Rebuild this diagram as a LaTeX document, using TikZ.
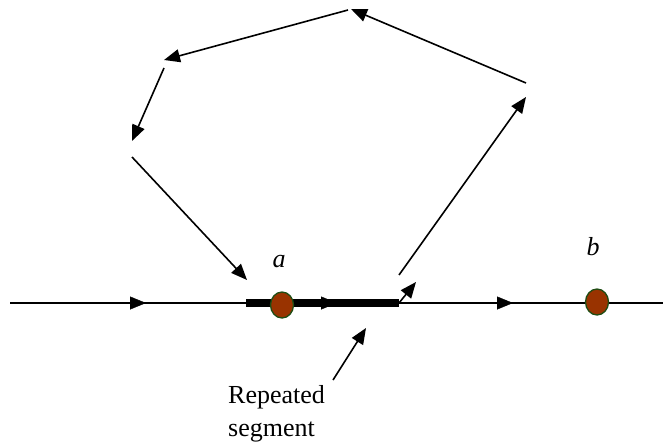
\documentclass[tikz,border=0pt]{standalone}
\usepackage{fontspec}
\setmainfont{Liberation Serif}
\usetikzlibrary{arrows.meta,decorations.markings,shapes.geometric}
\definecolor{dotfill}{HTML}{993300}
\definecolor{dotline}{HTML}{1E4D14}
\begin{document}
\begin{tikzpicture}[x=1pt,y=-1pt,
  conn/.style={line width=1.6pt,-{Triangle[length=16pt,width=13pt]}},
  mainline/.style={line width=1.4pt},
  thickline/.style={line width=8pt},
  midtip/.style={postaction={decorate},decoration={markings,mark=at position #1 with {\arrow{Triangle[length=16pt,width=13pt]}}}},
  dot/.style={ellipse,draw=dotline,fill=dotfill,line width=1.3pt,minimum width=23pt,minimum height=26pt,inner sep=0pt},
  lbl/.style={font=\fontsize{26}{30}\selectfont\itshape,inner sep=0pt},
  txt/.style={font=\fontsize{26}{33}\selectfont,inner sep=0pt,align=left,anchor=north west}
]
\useasboundingbox (0,0) rectangle (663,447);
% main line coordinates
\coordinate (L0) at (10,303);
\coordinate (L1) at (246,303);
\coordinate (L2) at (399,303);
\coordinate (L3) at (663,303);
% polygon coordinates
\coordinate (p1s) at (132,157);
\coordinate (p1e) at (247,280);
\coordinate (p2s) at (399,275);
\coordinate (p2e) at (526,97);
\coordinate (p3s) at (526,83);
\coordinate (p3e) at (351,9);
\coordinate (p4s) at (348,10);
\coordinate (p4e) at (164,60);
\coordinate (p5s) at (164,68);
\coordinate (p5e) at (132,141);
\coordinate (sm) at (416,282);
\coordinate (rs) at (333,380);
\coordinate (re) at (366,328);
% main line
\draw[mainline] (L0) -- (L1);
\draw[mainline] (L2) -- (L3);
\draw[thickline] (L1) -- (L2);
% mid arrows
\path[midtip=1] (L0) -- (146,303);
\path[midtip=1] (L1) -- (337,303);
\path[midtip=1] (L2) -- (513,303);
% dots
\node[dot] (a) at (282,305) {};
\node[dot] (b) at (597,302) {};
\node[lbl] (la) at (279,262) {a};
\node[lbl] (lb) at (593,247) {b};
% polygon
\draw[conn] (p1s) -- (p1e);
\draw[conn] (p2s) -- (p2e);
\draw[conn] (p3s) -- (p3e);
\draw[conn] (p4s) -- (p4e);
\draw[conn] (p5s) -- (p5e);
\draw[conn] (L2) -- (sm);
% label
\node[txt] (rep) at (228,385) {Repeated\\segment};
\draw[conn] (rs) -- (re);
\end{tikzpicture}
\end{document}
